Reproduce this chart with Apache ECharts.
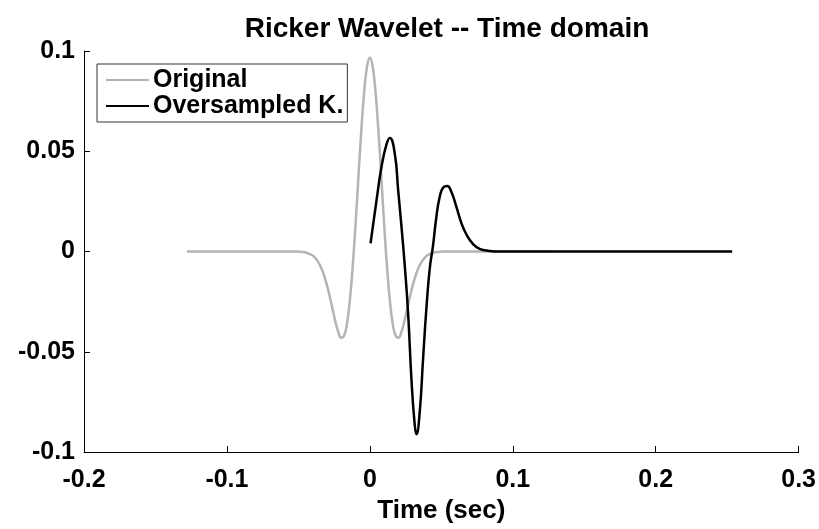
<!DOCTYPE html>
<html>
<head>
<meta charset="utf-8">
<script src="https://cdn.jsdelivr.net/npm/echarts@6/dist/echarts.min.js"></script>
<style>
html,body{margin:0;padding:0;background:#fff;}
#chart{width:819px;height:529px;}
</style>
</head>
<body>
<div id="chart"></div>
<script>
// Original Ricker wavelet (grey)
var origT = [-0.128, -0.06, -0.052, -0.048, -0.044,
  -0.040, -0.038, -0.036, -0.034, -0.032, -0.030, -0.028, -0.026, -0.024, -0.022, -0.020,
  -0.018, -0.016, -0.014, -0.012, -0.010, -0.008, -0.006, -0.004, -0.002, 0,
  0.002, 0.004, 0.006, 0.008, 0.010, 0.012, 0.014, 0.016, 0.018, 0.020,
  0.022, 0.024, 0.026, 0.028, 0.030, 0.032, 0.034, 0.036, 0.038, 0.040,
  0.044, 0.048, 0.052, 0.06, 0.128];
var origV = [0, 0, 0, -0.0002, -0.0007,
  -0.0020, -0.0034, -0.0054, -0.0082, -0.0120, -0.0169, -0.0227, -0.0290, -0.0353, -0.0403, -0.0430,
  -0.0419, -0.0359, -0.0244, -0.0075, 0.0137, 0.0371, 0.0600, 0.0792, 0.0921, 0.0966,
  0.0921, 0.0792, 0.0600, 0.0371, 0.0137, -0.0075, -0.0244, -0.0359, -0.0419, -0.0430,
  -0.0403, -0.0353, -0.0290, -0.0227, -0.0169, -0.0120, -0.0082, -0.0054, -0.0034, -0.0020,
  -0.0007, -0.0002, 0, 0, 0];

// Oversampled K. (black)
var kT = [0.0005, 0.0047, 0.0081, 0.0116, 0.0140, 0.0175, 0.0198, 0.0221, 0.0244, 0.0268,
  0.0291, 0.0314, 0.0326, 0.0349, 0.0372, 0.0396, 0.0419, 0.0442, 0.0466, 0.0489,
  0.0512, 0.0542, 0.0570, 0.0605, 0.0640, 0.0675, 0.0722, 0.0768, 0.0838, 0.0908, 0.2535];
var kV = [0.0041, 0.0257, 0.0420, 0.0533, 0.0566, 0.0485, 0.0306, 0.0127, -0.0068, -0.0312,
  -0.0638, -0.0865, -0.0911, -0.0800, -0.0540, -0.0280, -0.0085, 0.0029, 0.0176, 0.0273,
  0.0318, 0.0327, 0.0298, 0.0224, 0.0143, 0.0086, 0.0037, 0.0013, 0.0003, 0, 0];

var xTicks = ['-0.2', '-0.1', '0', '0.1', '0.2', '0.3'];
var yTicks = ['-0.1', '-0.05', '0', '0.05', '0.1'];

function pairs(xs, ys) {
  return xs.map(function (x, i) { return [x, ys[i]]; });
}
function tickLabel(list, v) {
  var hit = list.filter(function (s) { return Math.abs(parseFloat(s) - v) < 1e-9; });
  return hit.length ? hit[0] : '';
}

var font = 'Liberation Sans';
var chart = echarts.init(document.getElementById('chart'));
var option = {
  animation: false,
  backgroundColor: '#fff',
  title: {
    text: 'Ricker Wavelet -- Time domain',
    left: 442,
    textAlign: 'center',
    top: 10,
    textStyle: { fontFamily: font, fontWeight: 'bold', fontSize: 28, color: '#000' }
  },
  legend: {
    orient: 'vertical',
    left: 97,
    top: 64,
    padding: [3, 4, 3, 8],
    itemGap: 0,
    itemWidth: 43,
    itemHeight: 14,
    itemStyle: { opacity: 0 },
    backgroundColor: '#fff',
    borderColor: '#333',
    borderWidth: 1,
    textStyle: { fontFamily: font, fontWeight: 'bold', fontSize: 25, color: '#000', lineHeight: 26, padding: [0, 0, 0, -1] },
    data: ['Original', 'Oversampled K.']
  },
  grid: { left: 84, right: 19, top: 51, bottom: 68 },
  xAxis: {
    type: 'value',
    min: -0.2, max: 0.3, interval: 0.1,
    name: 'Time (sec)',
    nameLocation: 'middle',
    nameGap: 46,
    nameTextStyle: { fontFamily: font, fontWeight: 'bold', fontSize: 26, color: '#000' },
    axisLine: { onZero: false, lineStyle: { color: '#000', width: 1 } },
    axisTick: { inside: true, length: 6, lineStyle: { color: '#000' } },
    axisLabel: {
      fontFamily: font, fontWeight: 'bold', fontSize: 25, color: '#000', margin: 16,
      formatter: function (v) { return tickLabel(xTicks, v); }
    },
    splitLine: { show: false }
  },
  yAxis: {
    type: 'value',
    min: -0.1, max: 0.1, interval: 0.05,
    axisLine: { onZero: false, lineStyle: { color: '#000', width: 1 } },
    axisTick: { inside: true, length: 6, lineStyle: { color: '#000' } },
    axisLabel: {
      fontFamily: font, fontWeight: 'bold', fontSize: 25, color: '#000', margin: 9,
      formatter: function (v) { return tickLabel(yTicks, v); }
    },
    splitLine: { show: false }
  },
  series: [
    {
      name: 'Original',
      type: 'line',
      data: pairs(origT, origV),
      symbol: 'none',
      smooth: true,
      lineStyle: { color: '#b4b4b4', width: 2.5 },
      itemStyle: { color: '#b4b4b4' },
      z: 2
    },
    {
      name: 'Oversampled K.',
      type: 'line',
      data: pairs(kT, kV),
      symbol: 'none',
      smooth: true,
      lineStyle: { color: '#000', width: 2.5 },
      itemStyle: { color: '#000' },
      z: 3
    }
  ]
};
chart.setOption(option);
</script>
</body>
</html>
